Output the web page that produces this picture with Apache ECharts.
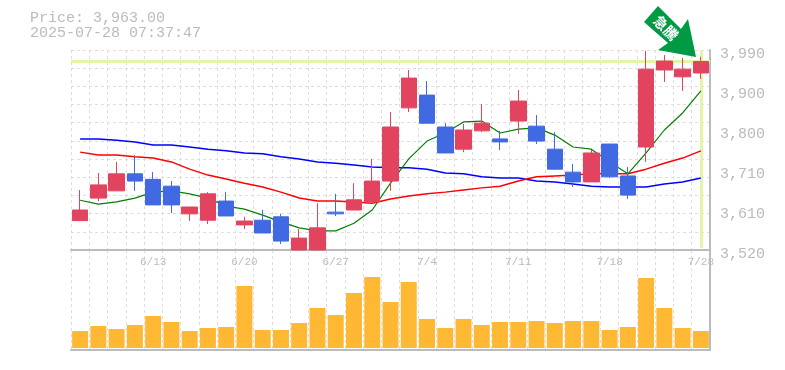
<!DOCTYPE html>
<html>
<head>
<meta charset="utf-8">
<style>
html, body { margin: 0; padding: 0; background: #fff; }
#chart { width: 785px; height: 370px; }
</style>
<script src="https://cdn.jsdelivr.net/npm/echarts@6/dist/echarts.min.js"></script>
</head>
<body>
<div id="chart"></div>
<script>
// daily candles, open close low high
var dates = ['6/9','6/10','6/11','6/12','6/13','6/16','6/17','6/18','6/19','6/20','6/23','6/24','6/25','6/26','6/27','6/30','7/1','7/2','7/3','7/4','7/7','7/8','7/9','7/10','7/11','7/14','7/15','7/16','7/17','7/18','7/22','7/23','7/24','7/25','7/28'];
var candles = [
    [3589,3614,3589,3661],[3642,3673,3635,3701],[3659,3699,3659,3727],[3699,3682,3659,3743],[3686,3626,3626,3703],
    [3670,3626,3607,3682],[3605,3621,3588,3621],[3590,3652,3581,3656],[3635,3600,3600,3656],[3579,3588,3569,3598],
    [3590,3560,3560,3614],[3598,3541,3534,3605],[3520,3548,3520,3569],[3520,3572,3520,3630],[3609,3605,3600,3652],
    [3614,3638,3614,3677],[3633,3682,3633,3734],[3682,3809,3659,3844],[3854,3924,3844,3943],[3884,3818,3818,3917],
    [3809,3748,3748,3818],[3757,3802,3750,3816],[3800,3818,3797,3863],[3781,3774,3755,3800],[3823,3870,3793,3896],
    [3811,3776,3769,3837],[3757,3710,3708,3797],[3703,3680,3668,3722],[3680,3748,3680,3755],[3769,3692,3689,3769],
    [3694,3649,3640,3715],[3762,3945,3727,3988],[3943,3964,3915,3978],[3927,3945,3894,3971],[3936,3963,3922,3974]
];
var maShort = [3637,3628,3633,3642,3656,3659,3652,3642,3623,3616,3602,3586,3572,3565,3565,3583,3614,3677,3734,3776,3795,3821,3823,3795,3804,3807,3790,3762,3757,3727,3699,3748,3802,3842,3894];
var maMid = [3750,3743,3743,3739,3736,3727,3710,3696,3687,3677,3668,3656,3642,3635,3635,3633,3630,3640,3647,3652,3656,3661,3666,3670,3682,3692,3694,3696,3699,3699,3699,3710,3724,3736,3753];
var maLong = [3781,3781,3778,3774,3767,3767,3762,3757,3753,3748,3746,3739,3734,3727,3724,3720,3715,3713,3713,3710,3701,3699,3692,3689,3689,3682,3680,3675,3670,3668,3668,3668,3675,3680,3689];
var volumes = [170,220,190,230,320,260,170,200,210,620,180,180,250,400,330,550,710,460,660,290,200,290,230,260,260,270,250,270,270,180,210,700,400,200,170];

var lastPrice = 3963;
var priceLabels = [3520,3614,3708,3802,3896,3990];
var dateLabels = ['6/13','6/20','6/27','7/4','7/11','7/18','7/28'];
var gridValues = [];
for (var i = 0; i <= 11; i++) gridValues.push(3520 + i * 470 / 11);

var dash = { show: true, lineStyle: { color: '#ddd', type: [3, 3], width: 1 } };
var monoFont = '"Liberation Mono", monospace';

var myChart = echarts.init(document.getElementById('chart'), null, { renderer: 'canvas' });
myChart.setOption({
    animation: false,
    backgroundColor: '#fff',
    grid: [
        { left: 71, top: 50, width: 639, height: 200 },
        { left: 71, top: 250, width: 639, height: 100 }
    ],
    xAxis: [
        {
            type: 'category', gridIndex: 0, data: dates, boundaryGap: true,
            axisLine: { show: true, onZero: false, lineStyle: { color: '#bbb', width: 2 } },
            axisTick: { show: false, interval: 0 },
            axisLabel: { show: false },
            splitLine: { show: true, interval: 0, lineStyle: dash.lineStyle }
        },
        {
            type: 'category', gridIndex: 1, data: dates, boundaryGap: true,
            axisLine: { show: true, onZero: false, lineStyle: { color: '#bbb', width: 2 } },
            axisTick: { show: false, interval: 0 },
            axisLabel: { show: false },
            splitLine: { show: true, interval: 0, lineStyle: dash.lineStyle }
        },
        {
            // date labels sit just under the price panel
            type: 'category', gridIndex: 1, data: dates, position: 'top', boundaryGap: true,
            axisLine: { show: false }, axisTick: { show: false }, splitLine: { show: false },
            axisLabel: {
                show: true, inside: true, interval: 0, margin: 7, hideOverlap: false,
                color: '#bbb', fontFamily: monoFont, fontSize: 11,
                formatter: function (v) { return dateLabels.indexOf(v) >= 0 ? v : ''; }
            }
        }
    ],
    yAxis: [
        {
            type: 'value', gridIndex: 0, min: 3520, max: 3990, position: 'right',
            axisLine: { show: true, lineStyle: { color: '#bbb', width: 2 } },
            axisTick: { show: false, customValues: gridValues },
            splitLine: dash,
            axisLabel: {
                customValues: priceLabels, color: '#bbb', fontFamily: monoFont, fontSize: 15, margin: 10,
                verticalAlign: 'top', lineHeight: 8, showMinLabel: true, showMaxLabel: true,
                formatter: function (v) { return (Math.round(v / 10) * 10).toLocaleString('en-US'); }
            }
        },
        {
            type: 'value', gridIndex: 1, min: -20, max: 980, position: 'right',
            axisLine: { show: true, lineStyle: { color: '#bbb', width: 2 } },
            axisTick: { show: false }, axisLabel: { show: false }, splitLine: { show: false }
        }
    ],
    series: [
        {
            name: 'last', type: 'line', data: [], xAxisIndex: 0, yAxisIndex: 0, z: 1,
            markLine: {
                silent: true, symbol: 'none', animation: false, label: { show: false }, z: 1,
                lineStyle: { color: '#e3f5a8', width: 3, type: 'solid' },
                data: [
                    { yAxis: lastPrice },
                    [{ coord: [dates[34], 3525] }, { coord: [dates[34], 3990] }]
                ]
            }
        },
        { name: 'long', type: 'line', data: maLong, symbol: 'none', z: 2, lineStyle: { color: '#0000ff', width: 1.5 } },
        { name: 'mid', type: 'line', data: maMid, symbol: 'none', z: 2, lineStyle: { color: '#ff0000', width: 1.5 } },
        { name: 'short', type: 'line', data: maShort, symbol: 'none', z: 2, lineStyle: { color: '#008000', width: 1.2 } },
        {
            name: 'price', type: 'candlestick', data: candles, z: 3, barWidth: 16,
            itemStyle: { color: '#e2445f', color0: '#4169e1', borderColor: '#e2445f', borderColor0: '#4169e1', borderWidth: 1 }
        },
        {
            name: 'volume', type: 'bar', data: volumes, xAxisIndex: 1, yAxisIndex: 1, barWidth: 16, z: 3,
            itemStyle: { color: '#ffb833' }
        }
    ],
    graphic: [
        { type: 'text', left: 30, top: 11, style: { text: 'Price: 3,963.00', fill: '#bbb', font: '15px ' + monoFont } },
        { type: 'text', left: 30, top: 26, style: { text: '2025-07-28 07:37:47', fill: '#bbb', font: '15px ' + monoFont } },
        {
            type: 'polygon', z: 10,
            shape: { points: [[658, 6], [681, 29], [688, 19], [696, 57], [658, 50], [668, 43], [644, 22]] },
            style: { fill: '#009944' }
        },
        {
            type: 'text', z: 11, x: 666, y: 28, rotation: -Math.PI / 4,
            style: { text: '急騰', fill: '#fff', font: 'bold 14px "Noto Sans CJK JP"', align: 'center', verticalAlign: 'middle' }
        }
    ]
});
</script>
</body>
</html>
